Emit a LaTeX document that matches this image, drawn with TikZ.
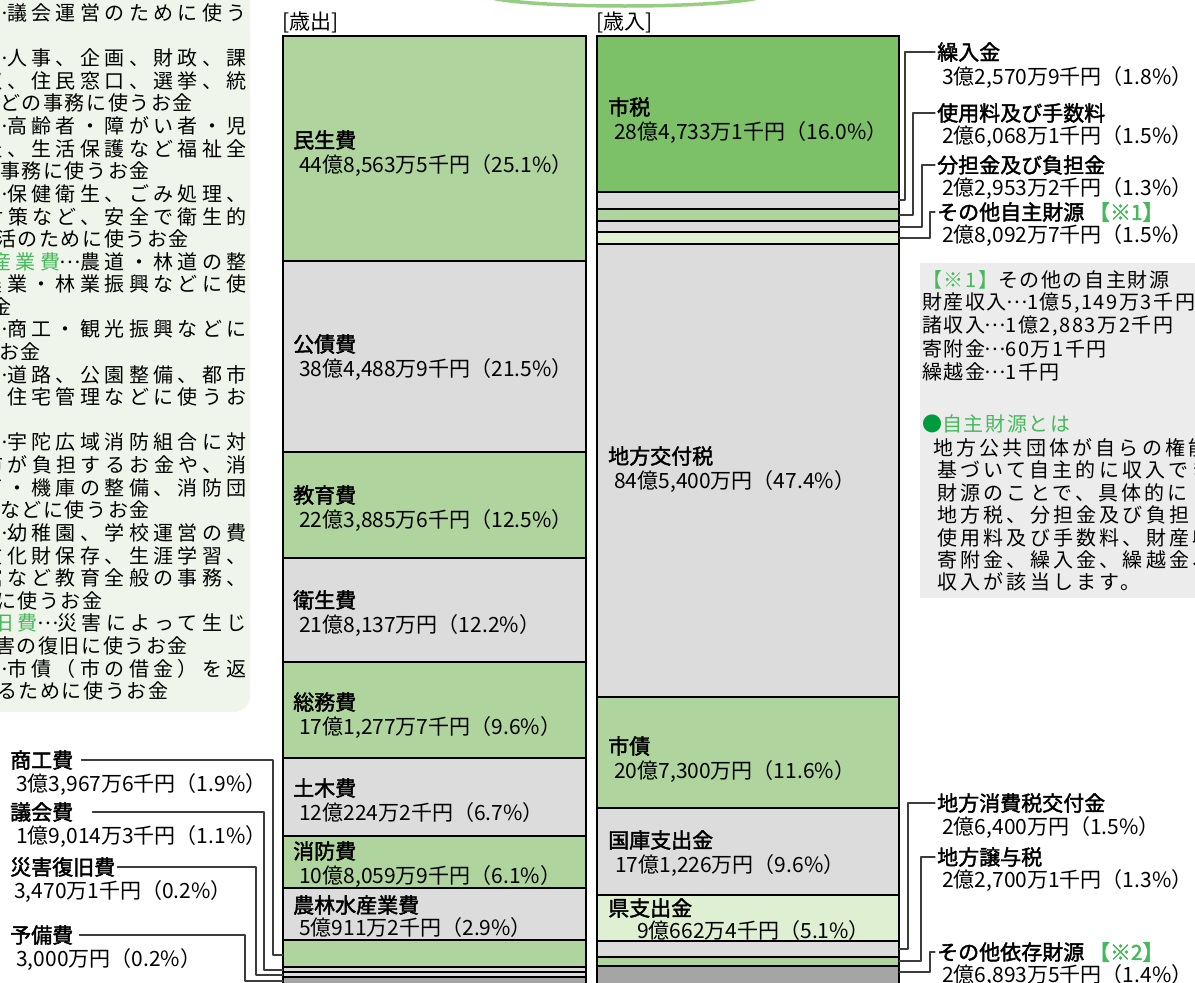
\documentclass[tikz,border=0pt]{standalone}
\usepackage{fontspec}
\setmainfont{Noto Sans CJK JP}
\newfontfamily\nmfont[FakeBold=2]{Noto Sans CJK JP}
\newfontfamily\boxfont[LetterSpace=8]{Noto Sans CJK JP}
\newfontfamily\boxfontj[LetterSpace=22]{Noto Sans CJK JP}
\newfontfamily\notefont[LetterSpace=16]{Noto Sans CJK JP}
\newcommand{\tenten}{\makebox[1em][c]{\raisebox{0.3em}[0pt][0pt]{…}}}
\usetikzlibrary{positioning}

\definecolor{ltgreen}{RGB}{176,212,158}
\definecolor{dkgreen}{RGB}{124,192,104}
\definecolor{pagreen}{RGB}{222,239,210}
\definecolor{ltgray}{RGB}{220,220,220}
\definecolor{dkgray}{RGB}{165,165,165}
\definecolor{boxgreen}{RGB}{239,245,234}
\definecolor{boxgray}{RGB}{236,236,236}
\definecolor{notegreen}{RGB}{70,185,90}
\definecolor{dotgreen}{RGB}{0,155,60}
\definecolor{arcgreen}{RGB}{150,205,130}
\definecolor{leadgray}{RGB}{60,60,60}

\begin{document}
\begin{tikzpicture}[x=1pt,y=-1pt,line cap=round,line join=round,
    font=\fontsize{21}{24}\selectfont,
    band/.style={draw=black,line width=1.8pt,line join=miter},
    leader/.style={draw=leadgray,line width=1.2pt},
    nm/.style={anchor=west,inner sep=2pt,font=\nmfont\fontsize{21}{24}\selectfont},
    val/.style={inner sep=1pt},
    bline/.style={inner sep=0pt,anchor=west,font=\boxfont\fontsize{20}{23}\selectfont},
    bfull/.style={inner sep=0pt,anchor=east,font=\boxfontj\fontsize{20}{23}\selectfont},
    note/.style={inner sep=0pt,anchor=west,font=\notefont\fontsize{20}{23}\selectfont}]
      \useasboundingbox (0,0) rectangle (1195,983);
      \clip (0,0) rectangle (1195,983);
      % explanation box, left
      \fill [boxgreen,rounded corners=16pt] (-40,-40) rectangle (250,712);
      \foreach \k/\t in {0/{\tenten 議会運営のために使う},2/{\tenten 人事、企画、財政、課},3/{収、住民窓口、選挙、統},
          5/{\tenten 高齢者・障がい者・児},6/{祉、生活保護など福祉全},8/{\tenten 保健衛生、ごみ処理、},
          9/{対策など、安全で衛生的},11/{\textcolor{notegreen}{産業費}\tenten 農道・林道の整},
          12/{農業・林業振興などに使},14/{\tenten 商工・観光振興などに},16/{\tenten 道路、公園整備、都市},
          17/{住宅管理などに使うお},19/{\tenten 宇陀広域消防組合に対},20/{市が負担するお金や、消},
          21/{両・機庫の整備、消防団},23/{\tenten 幼稚園、学校運営の費},24/{文化財保存、生涯学習、},
          25/{館など教育全般の事務、},27/{\textcolor{notegreen}{旧費}\tenten 災害によって生じ},
          29/{\tenten 市債（市の借金）を返}}
        \node [bfull] (bl\k) at (247,{13+22.6*\k}) {\t};
      \foreach \k/\xx/\t in {4/0/{どの事務に使うお金},7/0/{事務に使うお金},10/-4/{活のために使うお金},
          13/-9/{金},15/-1/{お金},22/0/{などに使うお金},26/-4/{に使うお金},
          28/-5/{害の復旧に使うお金},30/-3/{るために使うお金}}
        \node [bline] (bs\k) at (\xx,{13+22.6*\k}) {\t};
      % title arc
      \draw [line width=3.5pt,draw=arcgreen] (488,-3) .. controls (530,9) and (720,9) .. (762,-3);
      \node [anchor=west,inner sep=1pt] (sai) at (281,22) {[歳出]};
      \node [anchor=west,inner sep=1pt] (sainyu) at (595,22) {[歳入]};
      % expenditure column
      \foreach \ya/\yb/\c in {36/261/ltgreen,261/452/ltgray,452/558/ltgreen,558/662/ltgray,
          662/758/ltgreen,758/836/ltgray,836/888/ltgreen,888/940/ltgray,940/967/ltgreen,
          967/972/ltgray,972/977/ltgray,977/995/dkgray}
        \draw [band,fill=\c] (283,\ya) rectangle (586,\yb);
      % revenue column
      \foreach \ya/\yb/\c in {36/192/dkgreen,192/209/ltgray,209/221/ltgreen,221/232/ltgray,
          232/244/pagreen,244/697/ltgray,697/808/ltgreen,808/895/ltgray,895/941/pagreen,
          941/957/ltgray,957/966/ltgreen,966/995/dkgray}
        \draw [band,fill=\c] (597,\ya) rectangle (899,\yb);
      % labels in the columns
      \node [nm] (minsei) at (291,140) {民生費};
      \node [val,below right=1pt and 7pt of minsei.south west] (minseiV) {44億8,563万5千円（25.1\%）};
      \node [nm] (kosai) at (291,344) {公債費};
      \node [val,below right=1pt and 7pt of kosai.south west] (kosaiV) {38億4,488万9千円（21.5\%）};
      \node [nm] (kyoiku) at (291,495) {教育費};
      \node [val,below right=1pt and 7pt of kyoiku.south west] (kyoikuV) {22億3,885万6千円（12.5\%）};
      \node [nm] (eisei) at (291,600) {衛生費};
      \node [val,below right=1pt and 7pt of eisei.south west] (eiseiV) {21億8,137万円（12.2\%）};
      \node [nm] (somu) at (291,702) {総務費};
      \node [val,below right=1pt and 7pt of somu.south west] (somuV) {17億1,277万7千円（9.6\%）};
      \node [nm] (doboku) at (291,788) {土木費};
      \node [val,below right=1pt and 7pt of doboku.south west] (dobokuV) {12億224万2千円（6.7\%）};
      \node [nm] (shobo) at (291,851) {消防費};
      \node [val,below right=1pt and 7pt of shobo.south west] (shoboV) {10億8,059万9千円（6.1\%）};
      \node [nm] (norin) at (291,905) {農林水産業費};
      \node [val,below right=-1pt and 7pt of norin.south west] (norinV) {5億911万2千円（2.9\%）};
      \node [nm] (shizei) at (606,107) {市税};
      \node [val,below right=1pt and 7pt of shizei.south west] (shizeiV) {28億4,733万1千円（16.0\%）};
      \node [nm] (kofu) at (606,456) {地方交付税};
      \node [val,below right=1pt and 7pt of kofu.south west] (kofuV) {84億5,400万円（47.4\%）};
      \node [nm] (shisai) at (606,746) {市債};
      \node [val,below right=1pt and 7pt of shisai.south west] (shisaiV) {20億7,300万円（11.6\%）};
      \node [nm] (kokko) at (606,840) {国庫支出金};
      \node [val,below right=1pt and 8pt of kokko.south west] (kokkoV) {17億1,226万円（9.6\%）};
      \node [nm] (ken) at (606,908) {県支出金};
      \node [val,below right=-1pt and 30pt of ken.south west] (kenV) {9億662万4千円（5.1\%）};
      % small items, left
      \node [nm] (shoko) at (8,760) {商工費};
      \node [val,below right=0pt and 7pt of shoko.south west] (shokoV) {3億3,967万6千円（1.9\%）};
      \node [nm] (gikai) at (8,812) {議会費};
      \node [val,below right=0pt and 7pt of gikai.south west] (gikaiV) {1億9,014万3千円（1.1\%）};
      \node [nm] (saigai) at (8,867) {災害復旧費};
      \node [val,below right=0pt and 5pt of saigai.south west] (saigaiV) {3,470万1千円（0.2\%）};
      \node [nm] (yobi) at (8,935) {予備費};
      \node [val,below right=0pt and 7pt of yobi.south west] (yobiV) {3,000万円（0.2\%）};
      \coordinate (shokoP) at (283,955);
      \coordinate (gikaiP) at (283,970);
      \coordinate (saigaiP) at (283,975);
      \coordinate (yobiP) at (283,981);
      \draw [leader] ([xshift=6pt]shoko.east) -| ([xshift=-10pt]shokoP) -- (shokoP);
      \draw [leader] ([xshift=17pt]gikai.east) -| ([xshift=-19pt]gikaiP) -- (gikaiP);
      \draw [leader] (saigai.east) -| ([xshift=-27pt]saigaiP) -- (saigaiP);
      \draw [leader] ([xshift=4pt]yobi.east) -| ([xshift=-38pt]yobiP) -- (yobiP);
      % small items, right
      \node [nm] (kuri) at (935,52) {繰入金};
      \node [val,below right=1pt and 6pt of kuri.south west] (kuriV) {3億2,570万9千円（1.8\%）};
      \node [nm] (shiyo) at (935,113) {使用料及び手数料};
      \node [val,below right=-1pt and 6pt of shiyo.south west] (shiyoV) {2億6,068万1千円（1.5\%）};
      \node [nm] (futan) at (935,165) {分担金及び負担金};
      \node [val,below right=-1pt and 6pt of futan.south west] (futanV) {2億2,953万2千円（1.3\%）};
      \node [nm] (jishu) at (935,212) {その他自主財源 \textcolor{notegreen}{\mdseries【※1】}};
      \node [val,below right=-1pt and 6pt of jishu.south west] (jishuV) {2億8,092万7千円（1.5\%）};
      \node [nm] (shohi) at (935,803) {地方消費税交付金};
      \node [val,below right=0pt and 6pt of shohi.south west] (shohiV) {2億6,400万円（1.5\%）};
      \node [nm] (joyo) at (935,857) {地方譲与税};
      \node [val,below right=-1pt and 6pt of joyo.south west] (joyoV) {2億2,700万1千円（1.3\%）};
      \node [nm] (izon) at (935,952) {その他依存財源 \textcolor{notegreen}{\mdseries【※2】}};
      \node [val,below right=-1pt and 6pt of izon.south west] (izonV) {2億6,893万5千円（1.4\%）};
      \coordinate (kuriP) at (899,200);
      \coordinate (shiyoP) at (899,215);
      \coordinate (futanP) at (899,227);
      \coordinate (jishuP) at (899,238);
      \coordinate (shohiP) at (899,949);
      \coordinate (joyoP) at (899,961);
      \coordinate (izonP) at (899,972);
      \draw [leader] (kuri.west) -| ([xshift=6pt]kuriP) -- (kuriP);
      \draw [leader] (shiyo.west) -| ([xshift=14pt]shiyoP) -- (shiyoP);
      \draw [leader] (futan.west) -| ([xshift=23pt]futanP) -- (futanP);
      \draw [leader] (jishu.west) -| ([xshift=31pt]jishuP) -- (jishuP);
      \draw [leader] (shohi.west) -| ([xshift=9pt]shohiP) -- (shohiP);
      \draw [leader] (joyo.west) -| ([xshift=22pt]joyoP) -- (joyoP);
      \draw [leader] (izon.west) -| ([xshift=31pt]izonP) -- (izonP);
      % note box, right
      \fill [boxgray] (920,263) rectangle (1200,598);
      \node [bline] (n1) at (922,280) {\textcolor{notegreen}{【※1】}その他の自主財源};
      \node [bline] (n2) at (922,303) {財産収入\tenten 1億5,149万3千円};
      \node [bline] (n3) at (922,326) {諸収入\tenten 1億2,883万2千円};
      \node [bline] (n4) at (922,349) {寄附金\tenten 60万1千円};
      \node [bline] (n5) at (922,372) {繰越金\tenten 1千円};
      \node [bline] (n6) at (922,424) {\textcolor{dotgreen}{●}\textcolor{notegreen}{自主財源とは}};
      \node [note] (p1) at (933,448) {地方公共団体が自らの権能};
      \node [note] (p2) at (937,470) {基づいて自主的に収入でき};
      \node [note] (p3) at (937,493) {財源のことで、具体的に};
      \node [note] (p4) at (937,515) {地方税、分担金及び負担};
      \node [note] (p5) at (937,538) {使用料及び手数料、財産収};
      \node [note] (p6) at (937,560) {寄附金、繰入金、繰越金、};
      \node [note] (p7) at (937,582) {収入が該当します。};
\end{tikzpicture}
\end{document}
